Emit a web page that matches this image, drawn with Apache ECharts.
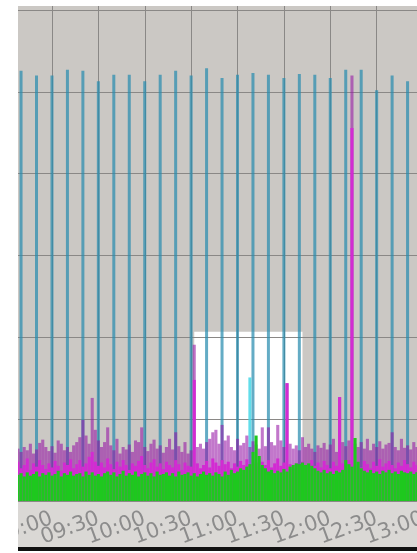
<!DOCTYPE html>
<html><head><meta charset="utf-8">
<script src="https://cdn.jsdelivr.net/npm/echarts/dist/echarts.min.js"></script>
<style>html,body{margin:0;padding:0;background:#fff}#c{width:417px;height:553px}</style>
</head><body><div id="c"></div>
<script>
// x categories: 2-minute buckets from 08:38
const startMinutes = 8 * 60 + 38;
const stepMinutes = 2;
const categoryCount = 142;
const categories = [];
for (let i = 0; i < categoryCount; i++) {
  const m = startMinutes + i * stepMinutes;
  categories.push(String(Math.floor(m / 60)).padStart(2, '0') + ':' + String(m % 60).padStart(2, '0'));
}

// tall teal bars (every 10 minutes)
const tealTimes = ['08:40','08:50','09:00','09:10','09:20','09:30','09:40','09:50','10:00','10:10','10:20','10:30','10:40',
                   '10:50','11:00','11:10','11:20','11:30','11:40','11:50','12:00','12:10','12:20','12:30','12:40','12:50'];
const tealValues = [526,520,520,527,526,513,521,521,513,521,526,520,529,
                    517,521,523,521,517,522,521,517,527,527,502,520,513];
// single short cyan bar
const cyanTimes = ['11:08'];
const cyanValues = [151];

// translucent purple layer (top of the noise band)
const mauveValues = [
  64,60,66,62,70,58,63,71,75,66,
  61,67,59,74,70,62,66,60,68,72,
  78,99,80,70,126,87,74,66,72,90,
  68,62,76,58,66,63,69,60,74,72,
  90,66,61,70,75,64,68,59,66,76,
  63,84,67,60,72,58,62,191,66,70,
  64,72,76,84,87,70,93,74,80,66,
  62,76,68,71,80,66,73,69,64,90,
  67,90,72,68,93,74,66,144,70,64,
  68,62,78,66,70,64,60,68,65,71,
  63,69,76,60,127,72,67,74,520,70,
  66,72,64,76,62,70,66,73,64,69,
  71,84,66,62,76,65,68,63,72,66
];
// solid magenta layer
const magentaValues = [
  48,40,44,52,38,46,42,50,44,39,
  46,41,49,43,37,47,44,51,40,45,
  50,42,46,54,60,48,43,47,41,52,
  45,39,48,42,50,44,38,46,43,49,
  55,44,40,47,51,42,46,39,48,44,
  41,50,45,38,47,43,42,148,46,40,
  44,49,41,52,47,43,50,45,48,40,
  46,42,49,44,51,39,45,47,42,48,
  44,50,41,46,52,43,47,144,45,40,
  46,42,48,39,45,50,43,47,41,49,
  44,40,48,43,127,46,42,50,456,44,
  47,41,49,45,40,48,43,51,42,46,
  49,44,40,47,43,50,45,41,48,44
];
// green base layer
const greenValues = [
  32,34,30,35,31,33,36,30,34,32,
  35,31,33,37,30,34,32,36,31,33,
  34,30,36,32,35,31,33,30,34,36,
  32,35,30,33,37,31,34,32,36,30,
  33,35,31,34,30,36,32,33,35,31,
  34,30,36,32,33,35,31,34,30,33,
  36,32,34,31,35,33,30,36,32,38,
  34,36,40,38,42,45,60,80,55,44,
  40,36,38,34,37,35,39,36,42,44,
  46,45,47,44,46,43,40,37,35,38,
  34,36,33,37,35,38,50,45,42,77,
  48,40,37,35,38,34,36,33,37,35,
  38,34,36,33,37,35,34,36,33,35
];

const highlightStart = '10:32';
const highlightEnd = '11:42';
const highlightTop = 207;

const isHalfHour = (idx, val) => /:(00|30)$/.test(val);

const chart = echarts.init(document.getElementById('c'), null, {renderer: 'canvas'});
chart.setOption({
  animation: false,
  backgroundColor: '#ffffff',
  grid: {left: 18, top: 6, width: 436, height: 495, show: true, backgroundColor: '#cbc8c4',
         borderWidth: 0, containLabel: false, outerBoundsMode: 'none'},
  graphic: [
    {type: 'rect', shape: {x: 18, y: 501, width: 399, height: 46}, style: {fill: '#dad8d5'}, z: -1},
    {type: 'rect', shape: {x: 18, y: 547, width: 399, height: 4}, style: {fill: '#111111'}, z: 50},
    {type: 'rect', shape: {x: 0, y: 0, width: 18, height: 553}, style: {fill: '#ffffff'}, z: 100}
  ],
  xAxis: {
    type: 'category', data: categories, boundaryGap: false, z: 2,
    axisLine: {show: false}, axisTick: {show: false},
    axisLabel: {interval: 0, formatter: (val, idx) => (isHalfHour(idx, val) ? val : ''),
                rotate: 20, margin: 17, color: '#8c8c8c', fontSize: 21, fontFamily: 'DejaVu Sans', hideOverlap: false},
    splitLine: {show: true, interval: isHalfHour, lineStyle: {color: '#8a8886', width: 1}}
  },
  yAxis: {
    type: 'value', min: 0, max: 605, interval: 100, z: 2,
    axisLine: {show: false}, axisTick: {show: false}, axisLabel: {show: false},
    splitLine: {show: true, showMaxLine: false, lineStyle: {color: '#8a8886', width: 1}}
  },
  series: [
    {type: 'line', data: [], z: 1, silent: true,
     markArea: {silent: true, itemStyle: {color: '#ffffff', opacity: 1},
       data: [[{xAxis: highlightStart, yAxis: 0}, {xAxis: highlightEnd, yAxis: highlightTop}]]}},
    {name: 'teal', type: 'bar', data: tealTimes.map((t, k) => [t, tealValues[k]]), barWidth: 3, barGap: '-100%', z: 3,
     itemStyle: {color: 'rgba(40,140,175,0.72)'}},
    {name: 'cyan', type: 'bar', data: cyanTimes.map((t, k) => [t, cyanValues[k]]), barWidth: 3, barGap: '-100%', z: 3,
     itemStyle: {color: 'rgba(70,215,230,0.85)'}},
    {name: 'mauve', type: 'bar', data: mauveValues, barWidth: '100%', barGap: '-100%', z: 4,
     itemStyle: {color: 'rgba(150,20,165,0.58)'}},
    {name: 'magenta', type: 'bar', data: magentaValues, barWidth: '100%', barGap: '-100%', z: 5,
     itemStyle: {color: '#d22bd2'}},
    {name: 'green', type: 'bar', data: greenValues, barWidth: '100%', barGap: '-100%', z: 6,
     itemStyle: {color: '#1ec81e'}}
  ]
});
</script></body></html>
